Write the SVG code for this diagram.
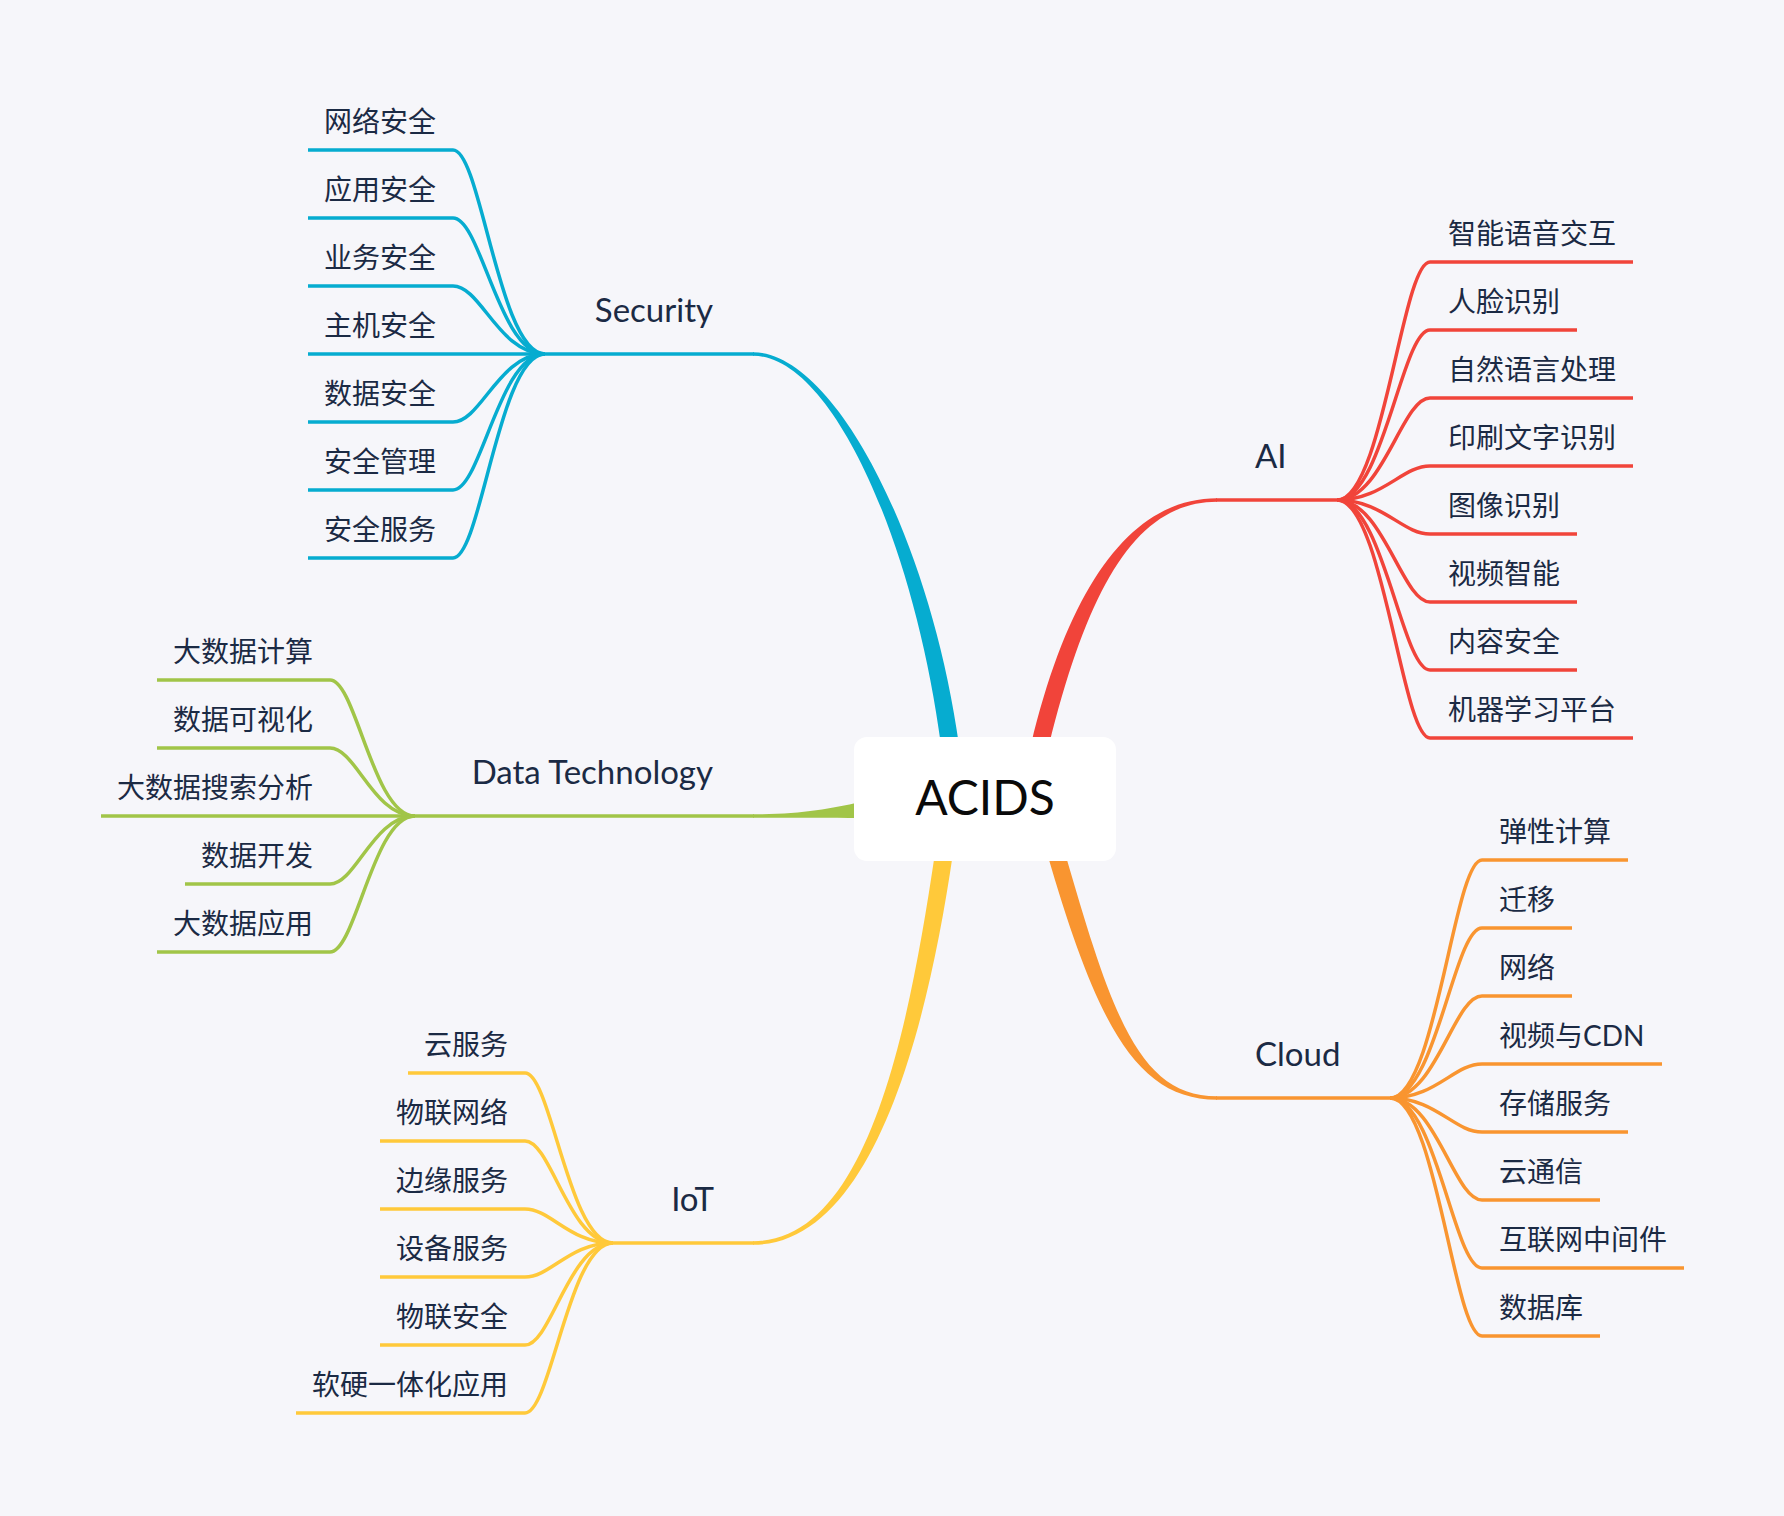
<svg xmlns="http://www.w3.org/2000/svg" width="1784" height="1516" viewBox="0 0 1784 1516">
<style>
.t{font-family:Lato,"Noto Sans CJK SC",sans-serif;font-size:28px;fill:#1B2A44}
.lbl{font-family:Lato,"Noto Sans",sans-serif;font-size:33px;fill:#1B2A44}
.root{font-family:Lato,"Noto Sans",sans-serif;font-size:48px;fill:#0A0A0A}
.l{fill:none;stroke-width:3.5}
.sec{stroke:#06ACD0}.ai{stroke:#F1443A}.dt{stroke:#A1C548}.iot{stroke:#FFC93A}.cl{stroke:#F99530}
.fsec{fill:#06ACD0}.fai{fill:#F1443A}.fdt{fill:#A1C548}.fiot{fill:#FFC93A}.fcl{fill:#F99530}
</style>
<rect width="1784" height="1516" fill="#F6F6FA"/>
<g id="connectors">
  <!-- main tapered branches -->
  <path class="fsec" d="M753,352.25 C834,352.25 930,538 959,745 L941,745 C914,542 832,355.75 753,355.75 Z"/>
  <path class="fai" d="M1217,498.25 C1136,498.25 1071,577 1031,745 L1049,745 C1089,583 1138,501.75 1217,501.75 Z"/>
  <path class="fcl" d="M1217,1096.25 C1139,1096.25 1112,1015 1065,853 L1047,853 C1096,1021 1135,1099.75 1217,1099.75 Z"/>
  <path class="fiot" d="M753,1241.25 C868,1241.25 909,1028 935,853 L953,853 C927,1032 872,1244.75 753,1244.75 Z"/>
  <path class="fdt" d="M753,814.25 C800,814.25 830,809 860,802 L860,818 C830,817.5 800,817.75 753,817.75 Z"/>
  <!-- main label lines -->
  <path class="l sec" d="M543,354 L754,354"/>
  <path class="l dt" d="M413,816 L754,816"/>
  <path class="l iot" d="M611,1243 L754,1243"/>
  <path class="l ai" d="M1216,500 L1339,500"/>
  <path class="l cl" d="M1216,1098 L1392,1098"/>
  <!-- Security children -->
  <path class="l sec" d="M308,150 L453,150 C481,150 499,354 545,354"/>
  <path class="l sec" d="M308,218 L453,218 C481,218 499,354 545,354"/>
  <path class="l sec" d="M308,286 L453,286 C481,286 499,354 545,354"/>
  <path class="l sec" d="M308,354 L545,354"/>
  <path class="l sec" d="M308,422 L453,422 C481,422 499,354 545,354"/>
  <path class="l sec" d="M308,490 L453,490 C481,490 499,354 545,354"/>
  <path class="l sec" d="M308,558 L453,558 C481,558 499,354 545,354"/>
  <!-- Data Technology children -->
  <path class="l dt" d="M157,680 L330,680 C356,680 373,816 415,816"/>
  <path class="l dt" d="M157,748 L330,748 C356,748 373,816 415,816"/>
  <path class="l dt" d="M101,816 L415,816"/>
  <path class="l dt" d="M185,884 L330,884 C356,884 373,816 415,816"/>
  <path class="l dt" d="M157,952 L330,952 C356,952 373,816 415,816"/>
  <!-- IoT children -->
  <path class="l iot" d="M408,1073 L525,1073 C551,1073 569,1243 613,1243"/>
  <path class="l iot" d="M380,1141 L525,1141 C551,1141 569,1243 613,1243"/>
  <path class="l iot" d="M380,1209 L525,1209 C551,1209 569,1243 613,1243"/>
  <path class="l iot" d="M380,1277 L525,1277 C551,1277 569,1243 613,1243"/>
  <path class="l iot" d="M380,1345 L525,1345 C551,1345 569,1243 613,1243"/>
  <path class="l iot" d="M296,1413 L525,1413 C551,1413 569,1243 613,1243"/>
  <!-- AI children -->
  <path class="l ai" d="M1337,500 C1383,500 1402,262 1430,262 L1633,262"/>
  <path class="l ai" d="M1337,500 C1383,500 1402,330 1430,330 L1577,330"/>
  <path class="l ai" d="M1337,500 C1383,500 1402,398 1430,398 L1633,398"/>
  <path class="l ai" d="M1337,500 C1383,500 1402,466 1430,466 L1633,466"/>
  <path class="l ai" d="M1337,500 C1383,500 1402,534 1430,534 L1577,534"/>
  <path class="l ai" d="M1337,500 C1383,500 1402,602 1430,602 L1577,602"/>
  <path class="l ai" d="M1337,500 C1383,500 1402,670 1430,670 L1577,670"/>
  <path class="l ai" d="M1337,500 C1383,500 1402,738 1430,738 L1633,738"/>
  <!-- Cloud children -->
  <path class="l cl" d="M1390,1098 C1436,1098 1454,860 1482,860 L1628,860"/>
  <path class="l cl" d="M1390,1098 C1436,1098 1454,928 1482,928 L1572,928"/>
  <path class="l cl" d="M1390,1098 C1436,1098 1454,996 1482,996 L1572,996"/>
  <path class="l cl" d="M1390,1098 C1436,1098 1454,1064 1482,1064 L1662,1064"/>
  <path class="l cl" d="M1390,1098 C1436,1098 1454,1132 1482,1132 L1628,1132"/>
  <path class="l cl" d="M1390,1098 C1436,1098 1454,1200 1482,1200 L1600,1200"/>
  <path class="l cl" d="M1390,1098 C1436,1098 1454,1268 1482,1268 L1684,1268"/>
  <path class="l cl" d="M1390,1098 C1436,1098 1454,1336 1482,1336 L1600,1336"/>
</g>
<g id="n-root">
  <rect x="854" y="737" width="262" height="124" rx="13" fill="#FFFFFF"/>
  <text class="root" x="985" y="815" text-anchor="middle">ACIDS</text>
</g>
<g id="n-security"><text class="lbl" x="713" y="322" text-anchor="end">Security</text></g>
<g id="n-data"><text class="lbl" x="713" y="784" text-anchor="end">Data Technology</text></g>
<g id="n-iot"><text class="lbl" x="714" y="1211" text-anchor="end">IoT</text></g>
<g id="n-ai"><text class="lbl" x="1255" y="468">AI</text></g>
<g id="n-cloud"><text class="lbl" x="1255" y="1066">Cloud</text></g>
<g id="n-sec-children" text-anchor="end">
  <g id="n-sec-1"><text class="t" x="436" y="132">网络安全</text></g>
  <g id="n-sec-2"><text class="t" x="436" y="200">应用安全</text></g>
  <g id="n-sec-3"><text class="t" x="436" y="268">业务安全</text></g>
  <g id="n-sec-4"><text class="t" x="436" y="336">主机安全</text></g>
  <g id="n-sec-5"><text class="t" x="436" y="404">数据安全</text></g>
  <g id="n-sec-6"><text class="t" x="436" y="472">安全管理</text></g>
  <g id="n-sec-7"><text class="t" x="436" y="540">安全服务</text></g>
</g>
<g id="n-dt-children" text-anchor="end">
  <g id="n-dt-1"><text class="t" x="313" y="662">大数据计算</text></g>
  <g id="n-dt-2"><text class="t" x="313" y="730">数据可视化</text></g>
  <g id="n-dt-3"><text class="t" x="313" y="798">大数据搜索分析</text></g>
  <g id="n-dt-4"><text class="t" x="313" y="866">数据开发</text></g>
  <g id="n-dt-5"><text class="t" x="313" y="934">大数据应用</text></g>
</g>
<g id="n-iot-children" text-anchor="end">
  <g id="n-iot-1"><text class="t" x="508" y="1055">云服务</text></g>
  <g id="n-iot-2"><text class="t" x="508" y="1123">物联网络</text></g>
  <g id="n-iot-3"><text class="t" x="508" y="1191">边缘服务</text></g>
  <g id="n-iot-4"><text class="t" x="508" y="1259">设备服务</text></g>
  <g id="n-iot-5"><text class="t" x="508" y="1327">物联安全</text></g>
  <g id="n-iot-6"><text class="t" x="508" y="1395">软硬一体化应用</text></g>
</g>
<g id="n-ai-children">
  <g id="n-ai-1"><text class="t" x="1448" y="244">智能语音交互</text></g>
  <g id="n-ai-2"><text class="t" x="1448" y="312">人脸识别</text></g>
  <g id="n-ai-3"><text class="t" x="1448" y="380">自然语言处理</text></g>
  <g id="n-ai-4"><text class="t" x="1448" y="448">印刷文字识别</text></g>
  <g id="n-ai-5"><text class="t" x="1448" y="516">图像识别</text></g>
  <g id="n-ai-6"><text class="t" x="1448" y="584">视频智能</text></g>
  <g id="n-ai-7"><text class="t" x="1448" y="652">内容安全</text></g>
  <g id="n-ai-8"><text class="t" x="1448" y="720">机器学习平台</text></g>
</g>
<g id="n-cloud-children">
  <g id="n-cl-1"><text class="t" x="1499" y="842">弹性计算</text></g>
  <g id="n-cl-2"><text class="t" x="1499" y="910">迁移</text></g>
  <g id="n-cl-3"><text class="t" x="1499" y="978">网络</text></g>
  <g id="n-cl-4"><text class="t" x="1499" y="1046">视频与CDN</text></g>
  <g id="n-cl-5"><text class="t" x="1499" y="1114">存储服务</text></g>
  <g id="n-cl-6"><text class="t" x="1499" y="1182">云通信</text></g>
  <g id="n-cl-7"><text class="t" x="1499" y="1250">互联网中间件</text></g>
  <g id="n-cl-8"><text class="t" x="1499" y="1318">数据库</text></g>
</g>
</svg>
